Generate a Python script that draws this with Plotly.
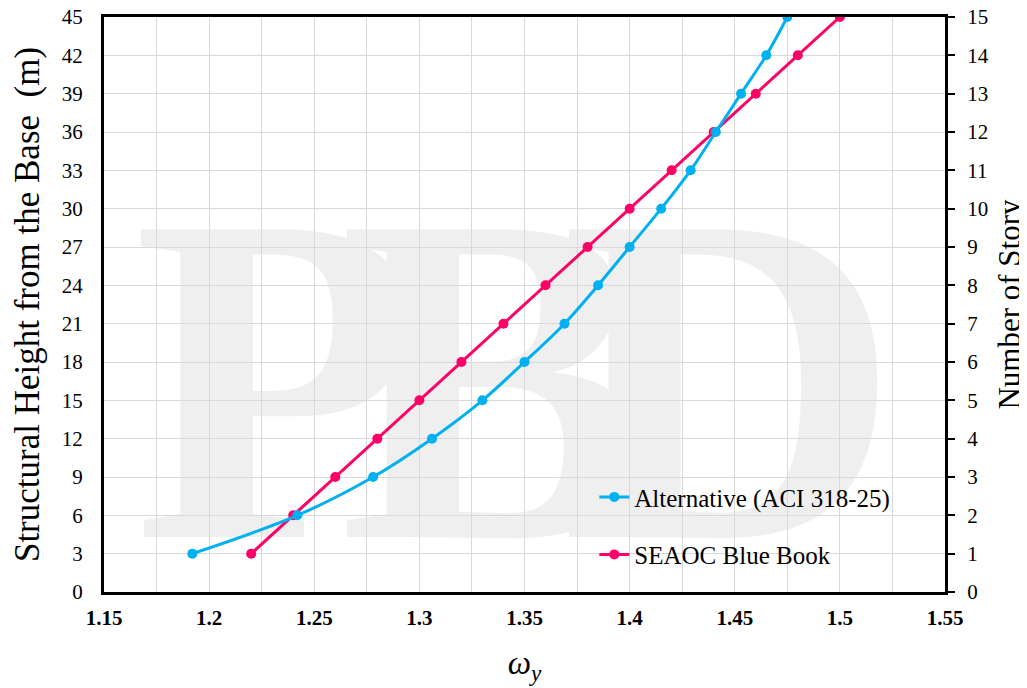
import plotly.graph_objects as go

# ---------------- data ----------------
heights = [3, 6, 9, 12, 15, 18, 21, 24, 27, 30, 33, 36, 39, 42, 45]
stories = [1, 2, 3, 4, 5, 6, 7, 8, 9, 10, 11, 12, 13, 14, 15]
omega_alternative = [1.192, 1.242, 1.278, 1.306, 1.330, 1.350, 1.369, 1.385,
                     1.400, 1.415, 1.429, 1.441, 1.453, 1.465, 1.475]
omega_seaoc = [1.22, 1.24, 1.26, 1.28, 1.30, 1.32, 1.34, 1.36,
               1.38, 1.40, 1.42, 1.44, 1.46, 1.48, 1.50]
x_tick_vals = [1.15, 1.2, 1.25, 1.3, 1.35, 1.4, 1.45, 1.5, 1.55]
x_tick_text = ["1.15", "1.2", "1.25", "1.3", "1.35", "1.4", "1.45", "1.5", "1.55"]
y_tick_vals = [0, 3, 6, 9, 12, 15, 18, 21, 24, 27, 30, 33, 36, 39, 42, 45]
story_ticks = [0, 1, 2, 3, 4, 5, 6, 7, 8, 9, 10, 11, 12, 13, 14, 15]
watermark_letters = ["P", "B", "D"]

BLUE = "#00B0F0"
PINK = "#FF0066"
SERIF = "Liberation Serif"

fig = go.Figure()

fig.add_trace(go.Scatter(
    x=omega_seaoc, y=heights, name="SEAOC Blue Book",
    mode="lines+markers", line=dict(color=PINK, width=3),
    marker=dict(color=PINK, size=10), legendgroup="b", legendrank=2,
))
fig.add_trace(go.Scatter(
    x=omega_alternative, y=heights, name="Alternative (ACI 318-25)",
    mode="lines+markers", line=dict(color=BLUE, width=3, shape="spline", smoothing=1),
    marker=dict(color=BLUE, size=10), legendgroup="a", legendrank=1,
))
# invisible trace to activate the story axis
fig.add_trace(go.Scatter(
    x=omega_seaoc, y=stories, yaxis="y2", mode="markers",
    marker=dict(opacity=0), showlegend=False, hoverinfo="skip",
))

# watermark letters, drawn beneath the gridlines
wm_centers = [0.205, 0.466, 0.745]
for letter, cx in zip(watermark_letters, wm_centers):
    fig.add_shape(
        type="rect", xref="paper", yref="paper",
        x0=cx - 0.12, x1=cx + 0.12, y0=0.21, y1=0.71,
        line=dict(width=0), fillcolor="rgba(0,0,0,0)", layer="below",
        label=dict(text="<b>" + letter + "</b>", textposition="middle center",
                   font=dict(family=SERIF, size=470, color="#EFEFEF")),
    )

fig.update_layout(
    width=1019, height=680,
    margin=dict(l=96, r=82, t=9, b=96, autoexpand=False),
    paper_bgcolor="white", plot_bgcolor="white",
    font=dict(family=SERIF, color="black", size=21),
    showlegend=True,
    legend=dict(
        x=0.583, y=0.205, xanchor="left", yanchor="top",
        bgcolor="rgba(0,0,0,0)", font=dict(family=SERIF, size=25, color="black"),
        traceorder="grouped", tracegroupgap=22,
    ),
    xaxis=dict(
        range=[1.15, 1.55], tickvals=x_tick_vals, ticktext=x_tick_text,
        tickfont=dict(family=SERIF, size=21, color="black", weight="bold"),
        showgrid=True, gridcolor="#D9D9D9", gridwidth=1,
        minor=dict(dtick=0.025, showgrid=True, gridcolor="#D9D9D9", gridwidth=1, tick0=1.15),
        showline=True, linecolor="black", linewidth=3, mirror=True,
        ticks="", ticklabelstandoff=5, zeroline=False, ticklabeloverflow="allow",
        title=dict(text="<i>ω<sub>y</sub></i>", font=dict(family=SERIF, size=33), standoff=22),
    ),
    yaxis=dict(
        range=[0, 45], tickvals=y_tick_vals,
        tickfont=dict(family=SERIF, size=21, color="black"),
        showgrid=True, gridcolor="#D9D9D9", gridwidth=1,
        showline=True, linecolor="black", linewidth=3, mirror=True,
        ticks="", ticklabelstandoff=14, zeroline=False, ticklabeloverflow="allow",
        title=dict(text="Structural Height from the Base  (m)",
                   font=dict(family=SERIF, size=35), standoff=14),
    ),
    yaxis2=dict(
        range=[0, 15], tickvals=story_ticks, overlaying="y", side="right",
        tickfont=dict(family=SERIF, size=21, color="black"),
        showgrid=False, zeroline=False,
        showline=True, linecolor="black", linewidth=3,
        ticks="outside", ticklen=7, tickwidth=2, tickcolor="black",
        ticklabelstandoff=8, ticklabeloverflow="allow",
        title=dict(text="Number of Story", font=dict(family=SERIF, size=31), standoff=14),
    ),
)

fig.write_html("out.html")
